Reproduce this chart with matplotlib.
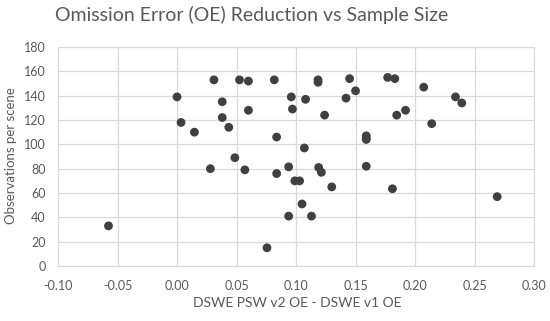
import matplotlib.pyplot as plt

# OE difference (v2 - v1) vs observations per scene
oe_diff = [0.031, 0.0525, 0.060, 0.0817, 0.000, 0.038, 0.096, 0.108, 0.060, 0.097,
           0.0034, 0.038, 0.0435, 0.0146, 0.0837, 0.107, 0.0486, 0.028, 0.057, 0.0938,
           0.0837, 0.099, 0.103, 0.105, 0.0938, -0.0576, 0.0756,
           0.1185, 0.1185, 0.145, 0.150, 0.142, 0.124, 0.177, 0.183, 0.2073,
           0.1846, 0.192, 0.214, 0.234, 0.2393, 0.159, 0.159, 0.159,
           0.119, 0.1213, 0.159, 0.130, 0.181, 0.269, 0.113]
obs = [153, 153, 152, 153, 139, 135, 139, 137, 128, 129,
       118, 122, 114, 110, 106, 97, 89, 80, 79, 81.5,
       76, 70, 70, 51, 41, 33, 15,
       153, 151, 154, 144, 138, 124, 155, 154, 147,
       124, 128, 117, 139, 134, 107, 105, 104,
       81, 77, 82, 65, 63.5, 57, 41]

x_ticks = [-0.10, -0.05, 0.00, 0.05, 0.10, 0.15, 0.20, 0.25, 0.30]
y_ticks = list(range(0, 181, 20))

plt.rcParams['font.family'] = ['Lato', 'DejaVu Sans']
gray = '#595959'

fig = plt.figure(figsize=(5.5, 3.21), dpi=100)
ax = fig.add_axes([0.1055, 0.1713, 0.8655, 0.6823])
ax.scatter(oe_diff, obs, s=40, color='#404040', edgecolor='none', zorder=3)

ax.set_xlim(-0.10, 0.30)
ax.set_ylim(0, 180)
ax.set_xticks(x_ticks)
ax.set_xticklabels(['%.2f' % t for t in x_ticks])
ax.set_yticks(y_ticks)
ax.grid(True, color='#d9d9d9', linewidth=0.9)
ax.set_axisbelow(True)
for s in ax.spines.values():
    s.set_color('#d9d9d9')
ax.tick_params(length=0, labelsize=9, colors=gray)
ax.tick_params(axis='x', pad=10)
ax.tick_params(axis='y', pad=9)

fig.text(0.458, 0.953, 'Omission Error (OE) Reduction vs Sample Size',
         ha='center', va='center', fontsize=14, color=gray)
fig.text(0.54, 0.056, 'DSWE PSW v2 OE - DSWE v1 OE', ha='center', va='center',
         fontsize=10, color=gray)
fig.text(0.02, 0.514, 'Observations per scene', ha='center', va='center',
         rotation=90, fontsize=9.5, color=gray)

fig.savefig('out.png', dpi=100)
